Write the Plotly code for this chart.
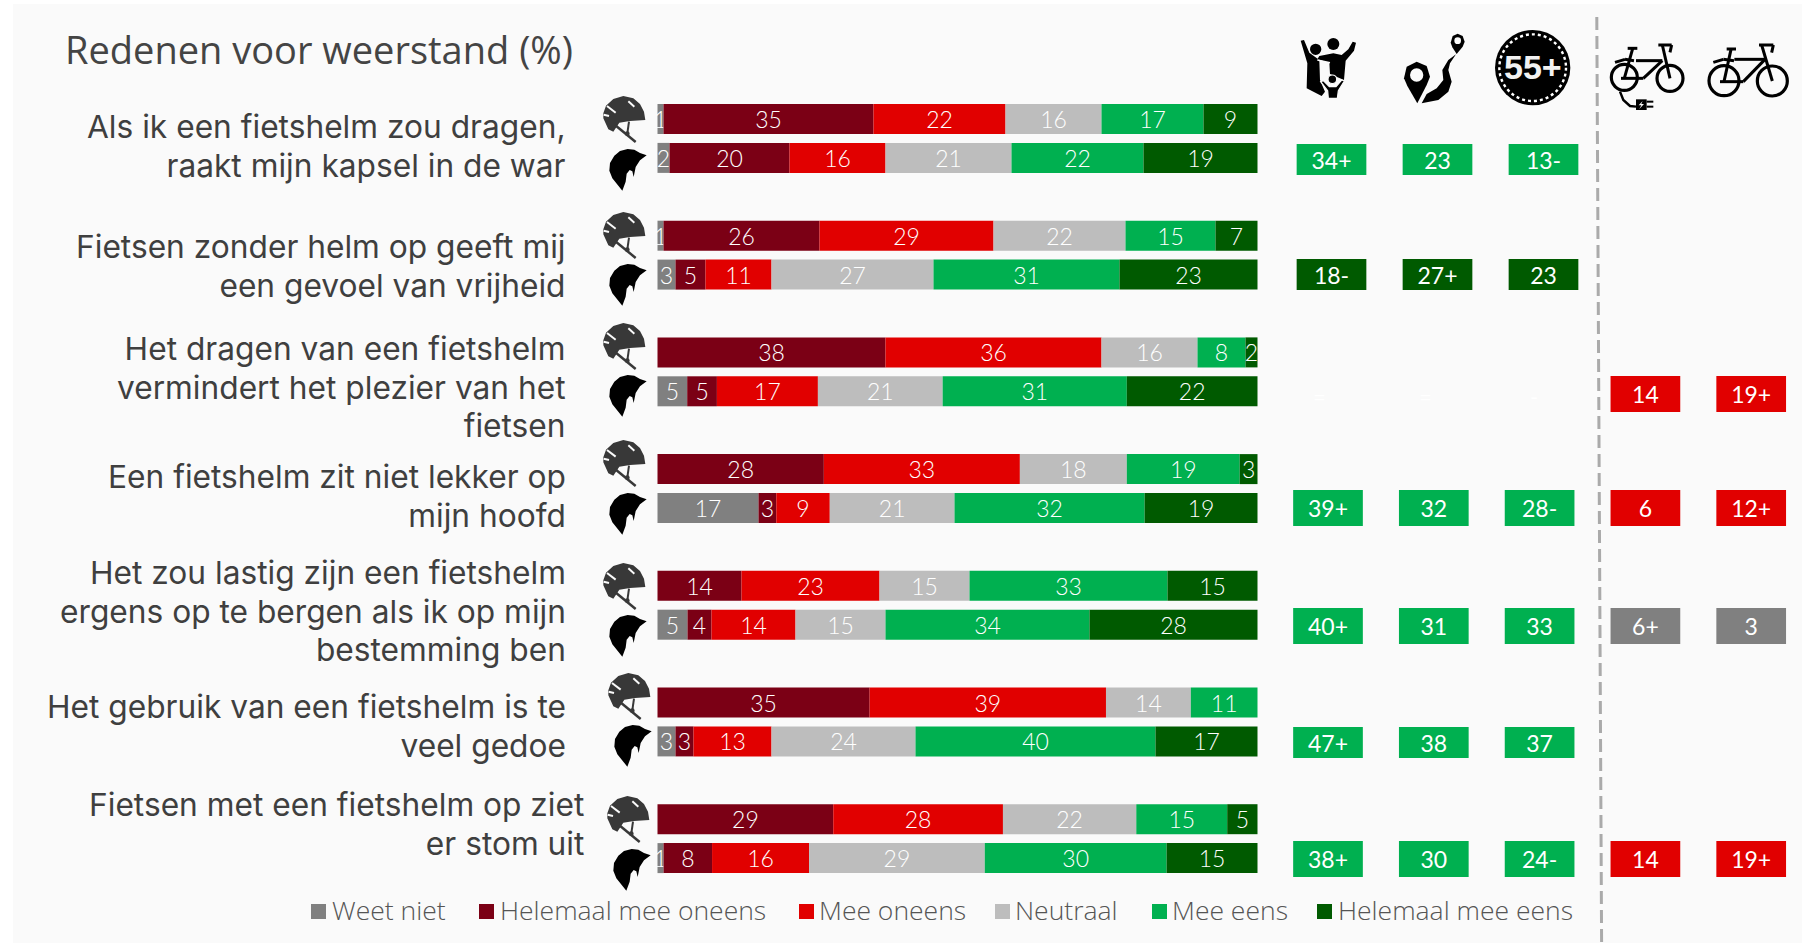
import plotly.graph_objects as go

W, H = 1808, 943
FONT = "Lato"
TEXTFONT = "Open Sans"
QFONT = "Inter"

# ---------- data ----------
series = ["Weet niet", "Helemaal mee oneens", "Mee oneens", "Neutraal", "Mee eens", "Helemaal mee eens"]
colors = ["#808080", "#7b0015", "#e10000", "#bdbdbd", "#00b050", "#005a00"]

questions = [
    ["Als ik een fietshelm zou dragen,", "raakt mijn kapsel in de war"],
    ["Fietsen zonder helm op geeft mij", "een gevoel van vrijheid"],
    ["Het dragen van een fietshelm", "vermindert het plezier van het", "fietsen"],
    ["Een fietshelm zit niet lekker op", "mijn hoofd"],
    ["Het zou lastig zijn een fietshelm", "ergens op te bergen als ik op mijn", "bestemming ben"],
    ["Het gebruik van een fietshelm is te", "veel gedoe"],
    ["Fietsen met een fietshelm op ziet", "er stom uit"],
]

# rows: with helmet / without helmet for every question
weet_niet  = [1, 2, 1, 3, 0, 5, 0, 17, 0, 5, 0, 3, 0, 1]
hel_oneens = [35, 20, 26, 5, 38, 5, 28, 3, 14, 4, 35, 3, 29, 8]
oneens     = [22, 16, 29, 11, 36, 17, 33, 9, 23, 14, 39, 13, 28, 16]
neutraal   = [16, 21, 22, 27, 16, 21, 18, 21, 15, 15, 14, 24, 22, 29]
eens       = [17, 22, 15, 31, 8, 31, 19, 32, 33, 34, 11, 40, 15, 30]
hel_eens   = [9, 19, 7, 23, 2, 22, 3, 19, 15, 28, 0, 17, 5, 15]
values = [weet_niet, hel_oneens, oneens, neutraal, eens, hel_eens]

# tag columns: parents, distance, 55+, e-bike, bike (one row per question)
tag_text = [
    ["34+", "23", "13-", None, None],
    ["18-", "27+", "23", None, None],
    [None, None, None, "14", "19+"],
    ["39+", "32", "28-", "6", "12+"],
    ["40+", "31", "33", "6+", "3"],
    ["47+", "38", "37", None, None],
    ["38+", "30", "24-", "14", "19+"],
]
tag_kind = [
    ["g", "g", "g", None, None],
    ["d", "d", "d", None, None],
    [None, None, None, "r", "r"],
    ["g", "g", "g", "r", "r"],
    ["g", "g", "g", "n", "n"],
    ["g", "g", "g", None, None],
    ["g", "g", "g", "r", "r"],
]
kind_color = {"g": "#00b050", "d": "#005a00", "r": "#e10000", "n": "#808080"}

# ---------- layout constants ----------
ROW0, ROWH = 119.0, 38.9          # pixel centre of first row, pixels per row
BAR_H = 30 / ROWH
XL, XU = 657.5, 6.0               # x pixel of 0 %, pixels per %
def rowof(py):
    return (py - ROW0) / ROWH

fig = go.Figure()

# stacked bars (normalised to a full bar width, as in the picture)
rows = [3 * (i // 2) + (i % 2) for i in range(14)]
totals = [sum(v[i] for v in values) for i in range(14)]
cum = [0.0] * 14
for s, c, v in zip(series, colors, values):
    idx = [i for i in range(14) if v[i] > 0]
    widths = [v[i] / totals[i] * 100 for i in idx]
    fig.add_trace(go.Bar(
        orientation="h", name=s,
        y=[rows[i] for i in idx], x=widths, base=[cum[i] for i in idx],
        width=BAR_H, marker=dict(color=c, line=dict(width=0)),
        text=[str(v[i]) for i in idx], textposition="inside", insidetextanchor="middle",
        textangle=0, constraintext="none",
        textfont=dict(family=FONT, size=23, color="white", weight=300),
        cliponaxis=False, showlegend=False, hoverinfo="name+text",
    ))
    for i, w in zip(idx, widths):
        cum[i] += w

# tag cells
TAG_X2 = (1328.0, 105.8)
TAG_X3 = (1331.5, 106.0)
tag_py = [159.5, 274.5, 394, 508, 626, 742.5, 859]
tag_h_px = [31, 31, 36, 36, 36, 31, 36]
for axis, groups, xwidth in (("x3", [0, 1], 69.7 / TAG_X3[1]), ("x2", [2, 3, 4, 5, 6], 69.7 / TAG_X2[1])):
    xs, hs, bs, cols, txt = [], [], [], [], []
    for g in groups:
        for c in range(5):
            if tag_text[g][c] is None:
                continue
            h = tag_h_px[g] / ROWH
            xs.append(c); hs.append(h); bs.append(rowof(tag_py[g]) - h / 2)
            cols.append(kind_color[tag_kind[g][c]]); txt.append(tag_text[g][c])
    fig.add_trace(go.Bar(
        x=xs, y=hs, base=bs, width=xwidth, xaxis=axis, yaxis="y",
        marker=dict(color=cols, line=dict(width=0)), text=txt,
        textposition="inside", insidetextanchor="middle", textangle=0, constraintext="none",
        textfont=dict(family=FONT, size=23, color="white", weight=400),
        showlegend=False, hoverinfo="text",
    ))

annos, shapes = [], []

def P(x, y):
    return f"{x / W:.5f},{1 - y / H:.5f}"

def poly(pts, ox, oy, s=1 / 3, fill="#000000", line=None, lw=0, close=True):
    d = "M" + " L".join(P(ox + x * s, oy + y * s) for x, y in pts) + (" Z" if close else "")
    shapes.append(dict(type="path", path=d, xref="paper", yref="paper",
                       fillcolor=fill if close else "rgba(0,0,0,0)",
                       line=dict(width=lw, color=line or "rgba(0,0,0,0)")))

def circ(cx, cy, r, ox, oy, s=1 / 3, fill=None, line=None, lw=0, dash=None):
    x, y = ox + cx * s, oy + cy * s
    rr = r * s
    ln = dict(width=lw, color=line or "rgba(0,0,0,0)")
    if dash:
        ln["dash"] = dash
    shapes.append(dict(type="circle", xref="paper", yref="paper",
                       x0=(x - rr) / W, x1=(x + rr) / W, y0=1 - (y + rr) / H, y1=1 - (y - rr) / H,
                       fillcolor=fill or "rgba(0,0,0,0)", line=ln))

def seg(a, b, ox, oy, lw=3, col="#000000", s=1 / 3):
    poly([a, b], ox, oy, s, line=col, lw=lw, close=False)

# panel
shapes.append(dict(type="rect", xref="paper", yref="paper", x0=13 / W, x1=1802 / W, y0=0, y1=1 - 4 / H,
                   fillcolor="#fafafa", line=dict(width=0), layer="below"))
# dashed divider
shapes.append(dict(type="line", xref="paper", yref="paper", x0=1596.8 / W, x1=1601.6 / W,
                   y0=1 - 17 / H, y1=0, line=dict(color="#aaaaaa", width=3, dash="13px,6px")))

# helmet and hair icons
HELMET = [(25, 70), (33, 47), (55, 27), (85, 18), (115, 25), (135, 42), (147, 65), (151, 90), (105, 93),
          (73, 98), (55, 125), (40, 118), (25, 85)]
HAIR = [(155, 197), (135, 190), (118, 180), (98, 178), (75, 184), (58, 198), (45, 220), (43, 243), (52, 266),
        (70, 288), (82, 303), (92, 276), (95, 252), (104, 241), (112, 245), (116, 262), (122, 232), (135, 212)]
helmet_top = [96, 212, 323, 440, 563, 673, 796]
hair_top = [149, 264, 375, 493, 615, 725, 849]
icon_dx = [0, 0, 0, 0, 0, 5, 4]
for ht, hr, dx in zip(helmet_top, hair_top, icon_dx):
    ox, oy = 595 + dx, ht - 6
    poly(HELMET, ox, oy, fill="#383838")
    seg((60, 105), (122, 156), ox, oy, lw=2.5, col="#383838")
    seg((102, 95), (97, 130), ox, oy, lw=2, col="#383838")
    circ(97, 131, 7, ox, oy, fill="#383838")
    seg((26, 74), (42, 78), ox, oy, lw=2, col="#fafafa")
    seg((36, 48), (62, 68), ox, oy, lw=2, col="#fafafa")
    seg((100, 34), (118, 50), ox, oy, lw=2, col="#fafafa")
    poly(HAIR, 595 + dx, hr - 59.3, fill="#000000")

# family icon
ox, oy = 1280, 20
circ(107, 88, 17, ox, oy, fill="#000000")
circ(160, 72, 18, ox, oy, fill="#000000")
poly([(62, 62), (72, 60), (88, 98), (118, 120), (120, 180), (135, 215), (125, 228), (80, 205), (82, 130)], ox, oy)
poly([(118, 108), (160, 100), (185, 105), (205, 88), (218, 65), (228, 68), (222, 92), (197, 122), (192, 180),
      (150, 162), (148, 128), (112, 118)], ox, oy)
seg((112, 120), (150, 128), ox, oy, lw=1.5, col="#fafafa")
poly([(122, 185), (130, 182), (148, 200), (168, 200), (185, 180), (193, 183), (175, 212), (172, 235), (145, 235),
      (143, 212)], ox, oy, line="#fafafa", lw=1.2)
circ(157, 178, 13, ox, oy, fill="#000000", line="#fafafa", lw=1.2)

# route icon
poly([(372, 175), (380, 140), (410, 125), (440, 138), (450, 170), (440, 195), (412, 250), (382, 198)], ox, oy)
circ(410, 165, 20, ox, oy, fill="#fafafa")
poly([(512, 68), (518, 48), (533, 41), (548, 48), (554, 65), (548, 80), (530, 102), (517, 82)], ox, oy)
circ(533, 62, 10, ox, oy, fill="#fafafa")
poly([(425, 250), (440, 222), (470, 205), (490, 180), (487, 150), (505, 120), (528, 103), (510, 130), (505, 150),
      (515, 185), (505, 215), (475, 240)], ox, oy)

# 55+ icon
circ(758, 143, 113, ox, oy, fill="#000000")
circ(758, 143, 100, ox, oy, line="#ffffff", lw=2.4, dash="dot")
annos.append(dict(text="<b>55+</b>", x=(ox + 758 / 3) / W, y=1 - (20 + 142 / 3) / H, xref="paper", yref="paper",
                  showarrow=False, font=dict(family="Liberation Sans", size=34, color="#f2f2f2"),
                  xanchor="center", yanchor="middle"))

# e-bike
ox, oy = 1580, 20
for (cx, cy) in [(133, 172), (270, 175)]:
    circ(cx, cy, 39, ox, oy, line="#000000", lw=3.2)
def bike(ox, oy, pts):
    for a, b in pts:
        seg(a, b, ox, oy, lw=3)
bike(ox, oy, [((143, 85), (172, 85)), ((158, 86), (133, 175)), ((168, 122), (247, 122)), ((247, 122), (190, 175)),
              ((123, 175), (190, 175)), ((247, 75), (270, 175)), ((235, 75), (275, 75)), ((275, 75), (270, 97)),
              ((105, 127), (135, 118)), ((135, 118), (162, 122))])
poly([(120, 215), (130, 240), (150, 258), (168, 260)], ox, oy, line="#000000", lw=2.4, close=False)
poly([(168, 238), (200, 238), (200, 270), (168, 270)], ox, oy)
seg((200, 245), (220, 245), ox, oy, lw=2)
seg((200, 260), (220, 260), ox, oy, lw=2)
poly([(188, 243), (176, 256), (184, 256), (178, 267), (192, 252), (184, 252)], ox, oy, fill="#fafafa")

# bike
for (cx, cy) in [(432, 182), (577, 183)]:
    circ(cx, cy, 45, ox, oy, line="#000000", lw=3.2)
bike(ox, oy, [((440, 87), (468, 87)), ((453, 88), (432, 185)), ((463, 118), (555, 118)), ((555, 118), (490, 185)),
              ((420, 185), (490, 185)), ((545, 75), (577, 183)), ((537, 75), (580, 75)), ((580, 75), (575, 98)),
              ((400, 127), (430, 118)), ((430, 118), (462, 122))])

# texts
annos.append(dict(text="Redenen voor weerstand (%)", x=63 / W, y=1 - 49 / H, xref="paper", yref="paper",
                  showarrow=False, xanchor="left", yanchor="middle",
                  font=dict(family=TEXTFONT, size=38, color="#444444", weight=400)))
q_mid = [146, 266, 387, 496, 611, 726, 824]
q_right = [568, 568, 568, 568, 568, 568, 586]
# line pitch follows the annotation size (1.3 em); the glyphs are set a little larger
for lines, ym, xr in zip(questions, q_mid, q_right):
    t = "<br>".join(f'<span style="font-size:31.7px">{x}</span>' for x in lines)
    annos.append(dict(text=t, x=xr / W, y=1 - ym / H, xref="paper", yref="paper", showarrow=False,
                      xanchor="right", yanchor="middle", align="right",
                      font=dict(family=QFONT, size=29.7, color="#3f3f3f", weight=400)))

# faint markers in question 3, white on the panel
for c, t in zip((0, 1, 2), ("=", "=", "-")):
    annos.append(dict(text=t, x=(TAG_X2[0] + TAG_X2[1] * c) / W, y=1 - 396 / H, xref="paper", yref="paper",
                      showarrow=False, font=dict(family=FONT, size=22, color="#ffffff")))

# key
key_swatch = [311, 479, 799, 995, 1152, 1317]
key_text = [330, 498, 817, 1013, 1170, 1336]
for s, c, xs, xt in zip(series, colors, key_swatch, key_text):
    shapes.append(dict(type="rect", xref="paper", yref="paper", x0=xs / W, x1=(xs + 15) / W,
                       y0=1 - 919 / H, y1=1 - 904 / H, fillcolor=c, line=dict(width=0)))
    annos.append(dict(text=s, x=xt / W, y=1 - 910 / H, xref="paper", yref="paper", showarrow=False,
                      xanchor="left", yanchor="middle", font=dict(family=TEXTFONT, size=26.5, color="#555555", weight=300)))

hidden = dict(visible=False, fixedrange=True)
fig.update_layout(
    width=W, height=H, margin=dict(l=0, r=0, t=0, b=0, pad=0), autosize=False,
    paper_bgcolor="#ffffff", plot_bgcolor="rgba(0,0,0,0)", barmode="overlay", showlegend=False,
    font=dict(family=FONT),
    xaxis=dict(range=[-XL / XU, (W - XL) / XU], domain=[0, 1], **hidden),
    xaxis2=dict(range=[-TAG_X2[0] / TAG_X2[1], (W - TAG_X2[0]) / TAG_X2[1]], domain=[0, 1], overlaying="x", anchor="y", **hidden),
    xaxis3=dict(range=[-TAG_X3[0] / TAG_X3[1], (W - TAG_X3[0]) / TAG_X3[1]], domain=[0, 1], overlaying="x", anchor="y", **hidden),
    yaxis=dict(range=[rowof(H), rowof(0)], domain=[0, 1], **hidden),
    shapes=shapes, annotations=annos,
)

fig.write_html("out.html", config={"displayModeBar": False},
               post_script="document.body.style.margin='0';document.body.style.overflow='hidden';")
